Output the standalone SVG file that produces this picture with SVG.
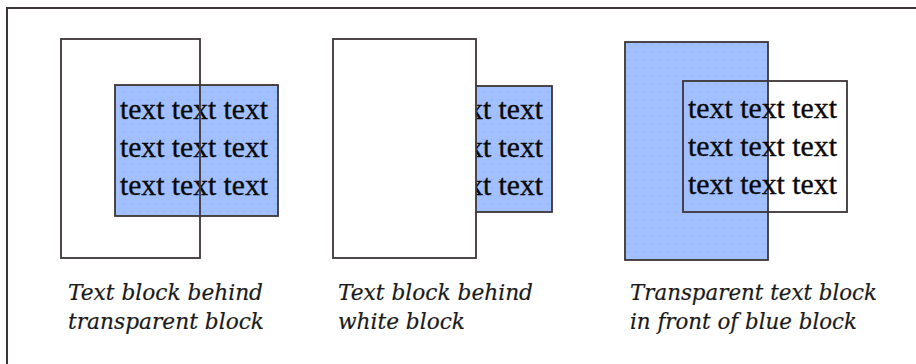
<svg xmlns="http://www.w3.org/2000/svg" width="916" height="364" viewBox="0 0 916 364">
<style>
.frame{fill:none;stroke:#3c3537;stroke-width:2}
.blk{stroke:#3c3537;stroke-width:1.8}
.blue{fill:url(#dots)}
.white{fill:#ffffff}
.none{fill:none}
.t{font-family:"Liberation Serif","Times New Roman",serif;font-size:29px;fill:#0a0a0a;stroke:#0a0a0a;stroke-width:0.35}
.cap{font-family:"DejaVu Serif","Liberation Serif",serif;font-style:italic;font-size:22px;fill:#1a1a1a;stroke:#1a1a1a;stroke-width:0.2}
</style>
<defs>
<pattern id="dots" width="8" height="8" patternUnits="userSpaceOnUse">
<rect width="8" height="8" fill="#a2c0ff"/>
<rect x="3" y="3" width="1.2" height="1.2" fill="#7fb4f5"/>
</pattern>
</defs>
<path class="frame" d="M7 364 V8 H916"/>
<g id="panel1">
<g id="p1-textblock">
<rect class="blk blue" x="115" y="85" width="163" height="131"/>
<text class="t" x="120" y="119" textLength="148" lengthAdjust="spacingAndGlyphs">text text text</text>
<text class="t" x="120" y="157" textLength="148" lengthAdjust="spacingAndGlyphs">text text text</text>
<text class="t" x="120" y="195" textLength="148" lengthAdjust="spacingAndGlyphs">text text text</text>
</g>
<rect id="p1-transparent" class="blk none" x="61" y="39" width="139" height="219"/>
<g id="p1-caption">
<text class="cap" x="68" y="300" textLength="195" lengthAdjust="spacingAndGlyphs">Text block behind</text>
<text class="cap" x="68" y="329" textLength="196" lengthAdjust="spacingAndGlyphs">transparent block</text>
</g>
</g>
<g id="panel2">
<g id="p2-textblock">
<rect class="blk blue" x="389" y="86" width="163" height="126"/>
<text class="t" x="395" y="119" textLength="148" lengthAdjust="spacingAndGlyphs">text text text</text>
<text class="t" x="395" y="157" textLength="148" lengthAdjust="spacingAndGlyphs">text text text</text>
<text class="t" x="395" y="195" textLength="148" lengthAdjust="spacingAndGlyphs">text text text</text>
</g>
<rect id="p2-white" class="blk white" x="333" y="39" width="143" height="219"/>
<g id="p2-caption">
<text class="cap" x="338" y="300" textLength="195" lengthAdjust="spacingAndGlyphs">Text block behind</text>
<text class="cap" x="338" y="329" textLength="127" lengthAdjust="spacingAndGlyphs">white block</text>
</g>
</g>
<g id="panel3">
<rect id="p3-blue" class="blk blue" x="625" y="42" width="143" height="218"/>
<g id="p3-textblock">
<rect class="blk none" x="683" y="81" width="164" height="131"/>
<text class="t" x="688" y="118" textLength="149" lengthAdjust="spacingAndGlyphs">text text text</text>
<text class="t" x="688" y="156" textLength="149" lengthAdjust="spacingAndGlyphs">text text text</text>
<text class="t" x="688" y="194" textLength="149" lengthAdjust="spacingAndGlyphs">text text text</text>
</g>
<g id="p3-caption">
<text class="cap" x="630" y="300" textLength="247" lengthAdjust="spacingAndGlyphs">Transparent text block</text>
<text class="cap" x="630" y="329" textLength="227" lengthAdjust="spacingAndGlyphs">in front of blue block</text>
</g>
</g>
</svg>
